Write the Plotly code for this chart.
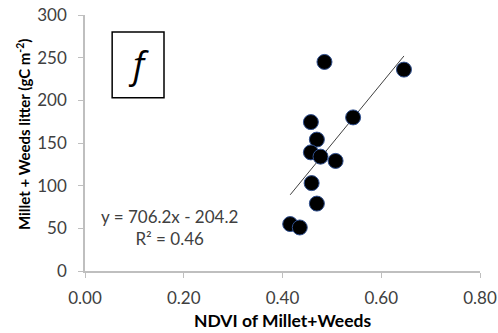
import plotly.graph_objects as go

ndvi = [0.485, 0.646, 0.543, 0.4575, 0.4696, 0.4575, 0.477, 0.5075, 0.459, 0.4696, 0.4156, 0.435]
litter = [245, 236, 180, 174.5, 154, 139, 134, 129, 103, 79, 55, 51]
slope = 706.2
intercept = -204.2
r2 = 0.46
x_ticks = [0.0, 0.2, 0.4, 0.6, 0.8]
y_ticks = [0, 50, 100, 150, 200, 250, 300]

xmin, xmax = min(ndvi), max(ndvi)
trend_x = [xmin, xmax]
trend_y = [slope * v + intercept for v in trend_x]

font_family = "Lato, 'Open Sans', sans-serif"
tick_color = "#404040"

fig = go.Figure()
fig.add_trace(go.Scatter(x=trend_x, y=trend_y, mode="lines",
                         line=dict(color="#404040", width=1), showlegend=False))
fig.add_trace(go.Scatter(x=ndvi, y=litter, mode="markers",
                         marker=dict(size=15, color="black",
                                     line=dict(color="#2f4f8f", width=1)),
                         showlegend=False))

fig.add_annotation(x=0.171, y=51, xref="x", yref="y",
                   text=f"y = {slope}x - {abs(intercept)}<br>R² = {r2}",
                   showarrow=False, align="center",
                   font=dict(family=font_family, size=17, color=tick_color))

# panel label box
fig.add_shape(type="rect", x0=0.055, x1=0.160, y0=203, y1=280, xref="x", yref="y",
              line=dict(color="black", width=1.5), fillcolor="rgba(0,0,0,0)")
fig.add_annotation(x=0.1075, y=241.5, xref="x", yref="y", text="<i>f</i>",
                   showarrow=False,
                   font=dict(family="'Open Sans', sans-serif", size=36, color="black"))

# axis titles (placed as annotations to match reference position)
fig.add_annotation(x=0, y=0.535, xref="paper", yref="paper", xshift=-62,
                   xanchor="center", yanchor="middle",
                   text="<b>Millet + Weeds litter (gC m<sup>-2</sup>)</b>",
                   textangle=-90, showarrow=False,
                   font=dict(family=font_family, size=15, color="black"))
fig.add_annotation(x=0.5, y=0, xref="paper", yref="paper", yshift=-49,
                   xanchor="center", yanchor="middle",
                   text="<b>NDVI of Millet+Weeds</b>", showarrow=False,
                   font=dict(family=font_family, size=17.5, color="black"))

fig.update_layout(
    width=498, height=333,
    margin=dict(l=85, r=18, t=15, b=62, autoexpand=False),
    paper_bgcolor="white", plot_bgcolor="white",
    font=dict(family=font_family, color=tick_color),
    xaxis=dict(range=[0, 0.8], tickvals=x_ticks, tickformat=".2f",
               showgrid=False, zeroline=False, showline=True, automargin=False,
               linecolor="#bfbfbf", linewidth=1.5, ticks="outside",
               ticklen=5, tickcolor="#bfbfbf", tickfont=dict(size=17, color=tick_color),
               ticklabelstandoff=6),
    yaxis=dict(range=[0, 300], tickvals=y_ticks,
               showgrid=False, zeroline=False, showline=True, automargin=False,
               linecolor="#bfbfbf", linewidth=1.5, ticks="outside",
               ticklen=5, tickcolor="#bfbfbf", tickfont=dict(size=17, color=tick_color),
               ticklabelstandoff=8),
)

fig.write_html("out.html")
